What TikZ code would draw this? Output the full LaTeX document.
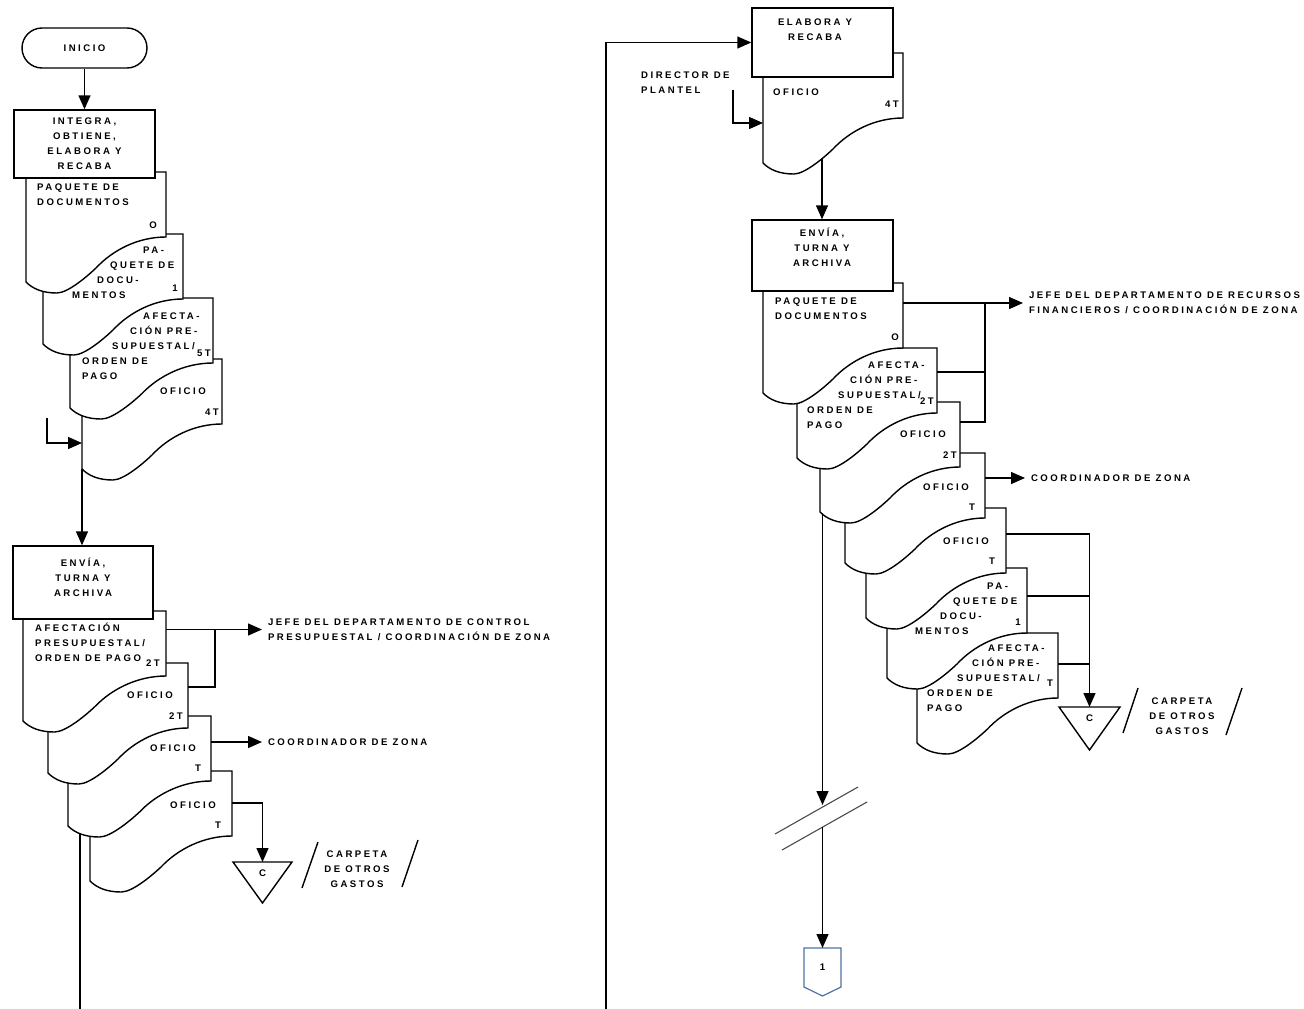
\documentclass[tikz,border=0pt]{standalone}
\usepackage{fontspec}
\setmainfont{Liberation Sans}
\newfontfamily\dfont{Liberation Sans}[LetterSpace=26]
\usetikzlibrary{arrows.meta}
\definecolor{offblue}{RGB}{79,114,165}
\newcommand{\docshape}[4]{%
  \begin{scope}[shift={(#2,#3)}]
    \draw[docst] (0,0) -- (#4,0) -- (#4,65)
      .. controls ({0.8*#4},65) and ({0.62*#4},78) .. ({0.5*#4},96)
      .. controls ({0.44*#4},104) and ({0.3*#4},121) .. ({0.22*#4},121)
      .. controls ({0.12*#4},121) and ({0.05*#4},117) .. (0,110) -- cycle;
    \coordinate (#1) at (0,0);
  \end{scope}}
\begin{document}
\begin{tikzpicture}[x=1pt,y=-1pt,
  ln/.style={line width=1.4pt},
  docst/.style={ln, draw, fill=white},
  fnt/.style={font=\dfont\bfseries\fontsize{9.6}{15}\selectfont},
  proc/.style={ln, draw, fill=white, rectangle, inner sep=0pt, fnt, align=center},
  txt/.style={fnt, inner sep=0pt, align=left, anchor=west},
  ctxt/.style={fnt, inner sep=0pt, align=center},
  tgt/.style={txt, outer xsep=6pt},
  arr/.style={ln, -{Triangle[length=14pt,width=12pt]}},
  brk/.style={line width=1.1pt, draw=black!70}]
\useasboundingbox (0,0) rectangle (1304,1009);
\fill[white] (0,0) rectangle (1304,1009);

% ---------------- left column, first group
\docshape{d4}{82}{359}{140}
\docshape{d3}{70}{298}{143}
\docshape{d2}{43}{234}{140}
\docshape{d1}{26}{172}{140}
\node[proc, rounded corners=20pt, minimum width=125pt, minimum height=40pt] (st) at (84.5,48) {INICIO};
\node[proc, minimum width=141pt, minimum height=68pt] (b1) at (84.5,144) {INTEGRA,\\OBTIENE,\\ELABORA Y\\RECABA};

\node[txt] (d1t) at (37,194.5) {PAQUETE DE\\DOCUMENTOS};
\node[ctxt] (d1n) at (153,225) {O};
\node[txt] (d2t) at (72,273) {\hspace*{71pt}PA-\\\hspace*{38pt}QUETE DE\\\hspace*{25pt}DOCU-\\MENTOS};
\node[ctxt] (d2n) at (175,288) {1};
\node[txt] (d3t) at (82,346.5) {\hspace*{61pt}AFECTA-\\\hspace*{48pt}CIÓN PRE-\\\hspace*{30pt}SUPUESTAL/\\ORDEN DE\\PAGO};
\node[ctxt] (d3n) at (204,353) {5T};
\node[txt] (d4t) at (160,391) {OFICIO};
\node[ctxt] (d4n) at (212,412) {4T};

\coordinate (d4bl) at (82,469);
\coordinate (in1) at (47,418);
\coordinate (d4in) at (82,443);

% ---------------- left column, second group
\docshape{dD}{90}{771}{142}
\docshape{dC}{68}{716}{143}
\docshape{dB}{48}{663}{140}
\docshape{dA}{23}{611}{143}
\node[proc, minimum width=140pt, minimum height=73pt] (b2) at (83,582.5) {};
\node[ctxt] (b2t) at (83,577) {ENVÍA,\\TURNA Y\\ARCHIVA};

\node[txt] (dAt) at (35,642) {AFECTACIÓN\\PRESUPUESTAL/\\ORDEN DE PAGO};
\node[ctxt] (dAn) at (153,663) {2T};
\node[txt] (dBt) at (127,695) {OFICIO};
\node[ctxt] (dBn) at (176,716) {2T};
\node[txt] (dCt) at (150,748) {OFICIO};
\node[ctxt] (dCn) at (198,768) {T};
\node[txt] (dDt) at (170,805) {OFICIO};
\node[ctxt] (dDn) at (218,825) {T};

\node[tgt] (jefe1) at (262,629.5) {JEFE DEL DEPARTAMENTO DE CONTROL\\PRESUPUESTAL / COORDINACIÓN DE ZONA};
\node[tgt] (coord1) at (262,742) {COORDINADOR DE ZONA};

\draw[ln, fill=white] (233,862) -- (292,862) -- (262.5,903) -- cycle;
\coordinate (tri1top) at (262.5,862);
\node[ctxt] (tri1) at (262.5,873) {C};
\draw[ln] (302,888) -- (318,842);
\draw[ln] (402,887) -- (418,840);
\node[ctxt] (carp1) at (357,869) {CARPETA\\DE OTROS\\GASTOS};

\coordinate (dAr) at (166,629.5);
\coordinate (j1) at (215,629.5);
\coordinate (dBr) at (188,687);
\coordinate (dCr) at (211,742);
\coordinate (dDr) at (232,803);
\coordinate (dCbot) at (80,833);
\coordinate (lout) at (80,1009);

% ---------------- right column
\docshape{dO}{763}{53}{140}
\node[proc, minimum width=141pt, minimum height=69pt] (bE) at (822.5,42.5) {};
\node[ctxt] (bEt) at (815,30) {ELABORA Y\\RECABA};
\node[txt] (dir) at (641,83) {DIRECTOR DE\\PLANTEL};
\node[txt] (dOt) at (773,92) {OFICIO};
\node[ctxt] (dOn) at (892,104) {4T};

\docshape{R7}{917}{633}{141}
\docshape{R6}{887}{568}{140}
\docshape{R5}{866}{508}{140}
\docshape{R4}{845}{453}{140}
\docshape{R3}{820}{402}{140}
\docshape{R2}{797}{348}{140}
\docshape{R1}{763}{283}{140}
\node[proc, minimum width=141pt, minimum height=71pt] (bV) at (822.5,255.5) {};
\node[ctxt] (bVt) at (822,247) {ENVÍA,\\TURNA Y\\ARCHIVA};

\node[txt] (R1t) at (775,308.5) {PAQUETE DE\\DOCUMENTOS};
\node[ctxt] (R1n) at (895,337) {O};
\node[txt] (R2t) at (807,395) {\hspace*{61pt}AFECTA-\\\hspace*{43pt}CIÓN PRE-\\\hspace*{31pt}SUPUESTAL/\\ORDEN DE\\PAGO};
\node[ctxt] (R2n) at (927,401) {2T};
\node[txt] (R3t) at (900,434) {OFICIO};
\node[ctxt] (R3n) at (950,455) {2T};
\node[txt] (R4t) at (923,487) {OFICIO};
\node[ctxt] (R4n) at (972,507) {T};
\node[txt] (R5t) at (943,541) {OFICIO};
\node[ctxt] (R5n) at (992,561) {T};
\node[txt] (R6t) at (915,608.5) {\hspace*{72pt}PA-\\\hspace*{38pt}QUETE DE\\\hspace*{25pt}DOCU-\\MENTOS};
\node[ctxt] (R6n) at (1018,622) {1};
\node[txt] (R7t) at (927,678.5) {\hspace*{61pt}AFECTA-\\\hspace*{45pt}CIÓN PRE-\\\hspace*{30pt}SUPUESTAL/\\ORDEN DE\\PAGO};
\node[ctxt] (R7n) at (1050,683) {T};

\node[tgt] (jefe2) at (1023,303) {JEFE DEL DEPARTAMENTO DE RECURSOS\\FINANCIEROS / COORDINACIÓN DE ZONA};
\node[tgt] (coord2) at (1025,478) {COORDINADOR DE ZONA};

\draw[ln, fill=white] (1059,707) -- (1120,707) -- (1089.5,750) -- cycle;
\coordinate (tri2top) at (1089.5,707);
\node[ctxt] (tri2) at (1089.5,718) {C};
\draw[ln] (1123,733) -- (1138,688);
\draw[ln] (1226,735) -- (1242,688);
\node[ctxt] (carp2) at (1182,716) {CARPETA\\DE OTROS\\GASTOS};

\draw[ln, draw=offblue, line width=1.2pt] (804,948) -- (841,948) -- (841,987) -- (822.5,996) -- (804,987) -- cycle;
\coordinate (offtop) at (822.5,948);
\node[ctxt] (off) at (822.5,967) {1};

\coordinate (rin) at (606,1009);
\coordinate (dirs) at (733,90);
\coordinate (dOin) at (763,123);
\coordinate (dObot) at (822,159);
\coordinate (R1r) at (903,303);
\coordinate (j2) at (985,303);
\coordinate (R2r) at (937,372);
\coordinate (R3r) at (960,422);
\coordinate (R4r) at (985,478);
\coordinate (R5r) at (1006,534);
\coordinate (R6r) at (1027,596);
\coordinate (R7r) at (1058,664);
\coordinate (R3bot) at (822.5,513);
\coordinate (brk1) at (822.5,805);
\coordinate (brk2) at (822.5,827);

% ---------------- connectors
\draw[arr] (st) -- (b1);
\draw[arr] (d4bl) -- (d4bl |- b2.north);
\draw[arr] (in1) |- (d4in);
\draw[arr] (dAr) -- (jefe1.west);
\draw[ln] (dBr) -| (j1);
\draw[arr] (dCr) -- (coord1.west);
\draw[arr] (dDr) -| (tri1top);
\draw[ln] (dCbot) -- (lout);

\draw[arr] (rin) |- (bE.west);
\draw[arr] (dirs) |- (dOin);
\draw[arr] (dObot) -- (dObot |- bV.north);
\draw[arr] (R1r) -- (jefe2.west);
\draw[ln] (R2r) -| (j2);
\draw[ln] (R3r) -| (j2);
\draw[arr] (R4r) -- (coord2.west);
\draw[arr] (R5r) -| (tri2top);
\draw[ln] (R6r) -- (R6r -| tri2top);
\draw[ln] (R7r) -- (R7r -| tri2top);
\draw[arr] (R3bot) -- (brk1);
\draw[brk] (775,834) -- (858,787);
\draw[brk] (782,850) -- (867,802);
\draw[arr] (brk2) -- (offtop);
\end{tikzpicture}
\end{document}
